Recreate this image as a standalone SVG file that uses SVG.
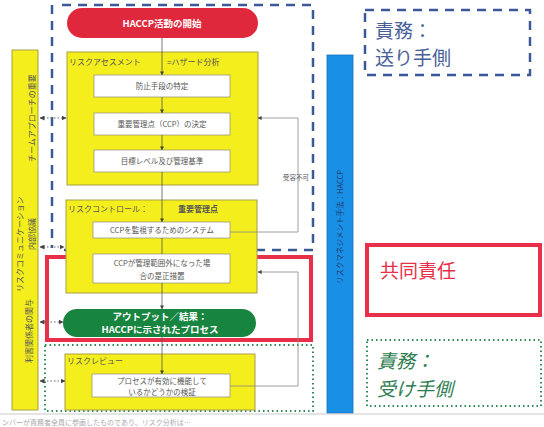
<svg xmlns="http://www.w3.org/2000/svg" width="544" height="427" viewBox="0 0 544 427">
<defs>
<style>
text{font-family:"Noto Sans CJK JP","Noto Sans",sans-serif;}
.yel{fill:#f4ee1c;stroke:#a89f45;stroke-width:1}
.wb{fill:#ffffff;stroke:#9a9a80;stroke-width:0.8}
.bt{font-size:7.5px;fill:#555;text-anchor:middle}
.lbl{font-size:8px;fill:#555}
.flow{stroke:#555;stroke-width:0.8;fill:none}
.loop{stroke:#888;stroke-width:0.8;fill:none}
.dotarrow{stroke:#667;stroke-width:1;stroke-dasharray:1.5 2;fill:none}
.vt{font-size:8px;fill:#555}
.big{font-size:19px}
</style>
<marker id="ah" viewBox="0 0 10 10" refX="9" refY="5" markerWidth="5" markerHeight="5" orient="auto-start-reverse">
<path d="M0,0 L10,5 L0,10 z" fill="#444"/>
</marker>
</defs>

<!-- responsibility frames -->
<g id="sender-frame">
<path d="M52,5 L52,248 M62,5 L313,5 L313,250 L58,250" fill="none" stroke="#3c5896" stroke-width="2.5" stroke-dasharray="9 7"/>
</g>
<g id="joint-frame">
<rect x="47" y="257" width="264" height="83" fill="none" stroke="#e8304a" stroke-width="4"/>
</g>
<g id="receiver-frame">
<rect x="45" y="345" width="268" height="66" fill="none" stroke="#2e8b57" stroke-width="2" stroke-dasharray="1.5 3"/>
</g>

<!-- left bar -->
<g id="risk-communication">
<rect class="yel" x="12" y="50" width="26" height="360"/>
<text class="vt" transform="translate(23,292) rotate(-90)">リスクコミュニケーション</text>
<text class="vt" transform="translate(35,162) rotate(-90)">チームアプローチの重要</text>
<text class="vt" transform="translate(35,250) rotate(-90)">内部協議</text>
<text class="vt" transform="translate(32,363) rotate(-90)">利害関係者の関与</text>
</g>

<!-- start -->
<g id="start">
<rect x="67" y="8" width="191" height="30" rx="15" fill="#e0283c"/>
<text x="162" y="27" font-size="9.5" font-weight="bold" fill="#fff" text-anchor="middle">HACCP活動の開始</text>
</g>

<g id="risk-assessment">
<rect class="yel" x="67" y="52" width="191" height="133"/>
<text class="lbl" x="69" y="65">リスクアセスメント</text>
<text class="lbl" x="167" y="65">=ハザード分析</text>
</g>
<g id="identify">
<rect class="wb" x="94" y="75" width="136" height="22"/>
<text class="bt" x="162" y="89">防止手段の特定</text>
</g>
<g id="ccp-decision">
<rect class="wb" x="94" y="113" width="136" height="22"/>
<text class="bt" x="162" y="127">重要管理点（CCP）の決定</text>
</g>
<g id="target-level">
<rect class="wb" x="94" y="150" width="136" height="22"/>
<text class="bt" x="162" y="164">目標レベル及び管理基準</text>
</g>

<g id="risk-control">
<rect class="yel" x="66" y="200" width="191" height="93"/>
<text class="lbl" x="68" y="212">リスクコントロール：</text>
<text x="178" y="212" font-size="8" font-weight="bold" fill="#555">重要管理点</text>
</g>
<g id="monitoring">
<rect class="wb" x="93" y="222" width="137" height="16"/>
<text class="bt" x="162" y="233">CCPを監視するためのシステム</text>
</g>
<g id="corrective">
<rect class="wb" x="93" y="254" width="137" height="29"/>
<text class="bt" x="162" y="266">CCPが管理範囲外になった場</text>
<text class="bt" x="162" y="279">合の是正措置</text>
</g>

<g id="output">
<rect x="63" y="309" width="193" height="28" rx="14" fill="#17853f"/>
<text x="160" y="320" font-size="9.5" font-weight="bold" fill="#fff" text-anchor="middle">アウトプット／結果：</text>
<text x="160" y="333" font-size="9.5" font-weight="bold" fill="#fff" text-anchor="middle">HACCPに示されたプロセス</text>
</g>

<g id="risk-review">
<rect class="yel" x="65" y="354" width="190" height="56"/>
<text class="lbl" x="67" y="364">リスクレビュー</text>
</g>
<g id="verification">
<rect class="wb" x="92" y="374" width="138" height="23"/>
<text class="bt" x="162" y="384">プロセスが有効に機能して</text>
<text class="bt" x="162" y="395">いるかどうかの検証</text>
</g>

<!-- blue bar -->
<g id="haccp-method">
<rect x="327" y="55" width="26" height="358" fill="#1a8fe6" stroke="#1670b8" stroke-width="0.8"/>
<text transform="translate(343,284) rotate(-90)" font-size="7.5" fill="#1d3f70">リスクマネジメント手法：HACCP</text>
</g>

<!-- legend boxes -->
<g id="legend-sender">
<rect x="365" y="10" width="165" height="65" fill="none" stroke="#3c5896" stroke-width="2.5" stroke-dasharray="9 7"/>
<text class="big" x="375" y="38" fill="#4a5f98">責務：</text>
<text class="big" x="375" y="65" fill="#4a5f98">送り手側</text>
</g>
<g id="legend-joint">
<rect x="367" y="245" width="173" height="70" fill="none" stroke="#e8304a" stroke-width="4"/>
<text class="big" x="380" y="278" fill="#e8304a">共同責任</text>
</g>
<g id="legend-receiver">
<rect x="367" y="340" width="174" height="66" fill="none" stroke="#2e8b57" stroke-width="2" stroke-dasharray="1.5 3"/>
<text class="big" x="377" y="368" fill="#2e7d4f" font-style="italic">責務：</text>
<text class="big" x="377" y="396" fill="#2e7d4f" font-style="italic">受け手側</text>
</g>

<!-- connectors -->
<g id="connectors">
<line class="flow" x1="162" y1="38" x2="162" y2="75" marker-end="url(#ah)"/>
<line class="flow" x1="162" y1="97" x2="162" y2="113" marker-end="url(#ah)"/>
<line class="flow" x1="162" y1="135" x2="162" y2="150" marker-end="url(#ah)"/>
<line class="flow" x1="162" y1="172" x2="162" y2="222" marker-end="url(#ah)"/>
<line class="flow" x1="162" y1="238" x2="162" y2="254"/>
<line class="flow" x1="162" y1="283" x2="162" y2="309" marker-end="url(#ah)"/>
<line class="flow" x1="162" y1="337" x2="162" y2="374" marker-end="url(#ah)"/>
<path class="loop" d="M230,232 L298,232 L298,118 L258,118" marker-end="url(#ah)"/>
<path class="loop" d="M230,386 L298,386 L298,272 L258,272" marker-end="url(#ah)"/>
<line class="dotarrow" x1="40" y1="118" x2="66" y2="118" marker-start="url(#ah)" marker-end="url(#ah)"/>
<line class="dotarrow" x1="40" y1="247" x2="64" y2="247" marker-start="url(#ah)" marker-end="url(#ah)"/>
<line class="dotarrow" x1="40" y1="322" x2="63" y2="322" marker-start="url(#ah)" marker-end="url(#ah)"/>
<line class="dotarrow" x1="40" y1="381" x2="65" y2="381" marker-start="url(#ah)" marker-end="url(#ah)"/>
</g>
<text x="296" y="180" font-size="6.5" fill="#555" text-anchor="middle">受容不可</text>

<!-- footer -->
<line x1="0" y1="414" x2="544" y2="414" stroke="#bbb" stroke-width="0.8"/>
<text x="2" y="425" font-size="7" fill="#aaa">ンバーが責務者全員に参画したものであり、リスク分析は…</text>
</svg>
